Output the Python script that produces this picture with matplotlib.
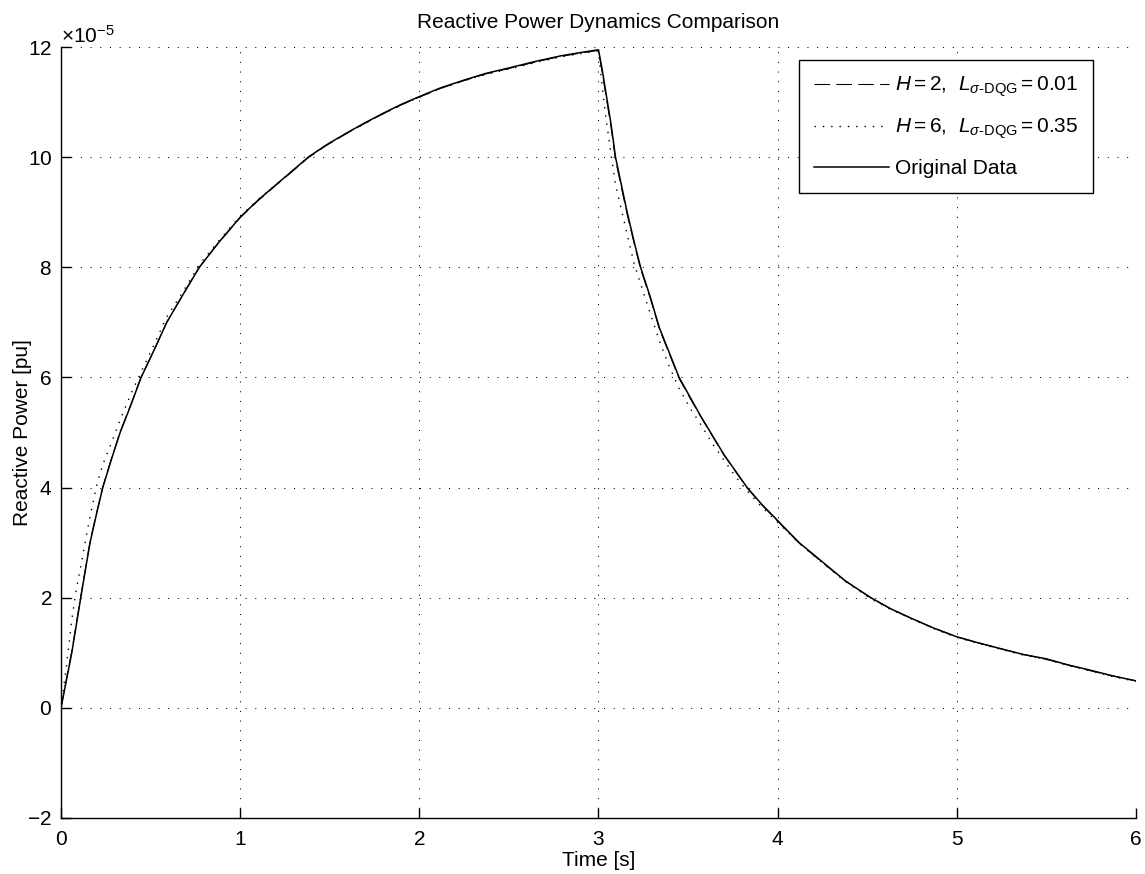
import matplotlib
matplotlib.use("Agg")
import matplotlib.pyplot as plt

plt.rcParams['font.family'] = ['Liberation Sans', 'DejaVu Sans']
plt.rcParams['mathtext.fontset'] = 'custom'
plt.rcParams['mathtext.rm'] = 'Liberation Sans'
plt.rcParams['mathtext.it'] = 'Liberation Sans:italic'
plt.rcParams['mathtext.sf'] = 'Liberation Sans'
plt.rcParams['axes.unicode_minus'] = False
FS = 15
plt.rcParams['font.size'] = FS

# time axis [s]
t = [0, 0.03, 0.06, 0.085, 0.11, 0.14, 0.162, 0.2, 0.233, 0.28, 0.33, 0.39, 0.447, 0.52, 0.59, 0.68, 0.772, 0.88, 1.0,
     1.1, 1.2, 1.28, 1.38, 1.48, 1.6, 1.7, 1.8, 1.9, 2.0, 2.12, 2.25, 2.37, 2.5, 2.65, 2.79, 2.9, 3.0,
     3.02, 3.04, 3.07, 3.095, 3.16, 3.2, 3.235, 3.29, 3.34, 3.395, 3.45, 3.51, 3.57, 3.635, 3.7, 3.765, 3.83, 3.91, 4.0,
     4.12, 4.25, 4.38, 4.52, 4.63, 4.75, 4.87, 5.0, 5.12, 5.25, 5.37, 5.5, 5.62, 5.75, 5.87, 6.0]

# reactive power, in units of 1e-5 pu
q_h2 = [0, 0.52, 1.03, 1.52, 2.02, 2.6, 3.02, 3.56, 4.01, 4.51, 5.01, 5.51, 6.01, 6.5, 7.0, 7.5, 8.0, 8.45, 8.9,
        9.21, 9.49, 9.71, 9.99, 10.21, 10.44, 10.62, 10.79, 10.95, 11.09, 11.25, 11.39, 11.51, 11.61, 11.73, 11.83, 11.89, 11.94,
        11.55, 11.15, 10.55, 9.95, 8.96, 8.42, 7.97, 7.43, 6.88, 6.43, 5.98, 5.63, 5.29, 4.94, 4.59, 4.29, 3.99, 3.69, 3.39,
        2.99, 2.64, 2.3, 2.0, 1.8, 1.62, 1.45, 1.29, 1.18, 1.07, 0.97, 0.88, 0.78, 0.67, 0.58, 0.49]
q_h6 = [0, 0.75, 1.6, 2.15, 2.57, 3.1, 3.48, 4.05, 4.42, 4.8, 5.23, 5.7, 6.1, 6.6, 7.1, 7.55, 8.05, 8.48, 8.93,
        9.23, 9.5, 9.72, 10.0, 10.22, 10.45, 10.62, 10.79, 10.95, 11.09, 11.25, 11.39, 11.5, 11.6, 11.72, 11.82, 11.88, 11.93,
        11.3, 10.75, 10.05, 9.5, 8.6, 8.05, 7.7, 7.15, 6.66, 6.2, 5.8, 5.45, 5.15, 4.8, 4.5, 4.2, 3.94, 3.65, 3.37,
        2.99, 2.63, 2.29, 1.98, 1.79, 1.61, 1.44, 1.28, 1.17, 1.06, 0.96, 0.88, 0.77, 0.67, 0.57, 0.48]
q_orig = [0, 0.5, 1.0, 1.5, 2.0, 2.58, 3.0, 3.55, 4.0, 4.5, 5.0, 5.5, 6.0, 6.5, 7.0, 7.5, 8.0, 8.45, 8.91,
          9.22, 9.5, 9.72, 10.0, 10.22, 10.45, 10.63, 10.8, 10.96, 11.1, 11.26, 11.4, 11.52, 11.62, 11.74, 11.84, 11.9, 11.95,
          11.6, 11.2, 10.6, 10.0, 9.0, 8.45, 8.0, 7.45, 6.9, 6.45, 6.0, 5.65, 5.3, 4.95, 4.6, 4.3, 4.0, 3.7, 3.4,
          3.0, 2.65, 2.3, 2.0, 1.8, 1.62, 1.45, 1.29, 1.18, 1.07, 0.97, 0.89, 0.78, 0.68, 0.58, 0.49]
scale = 1e-5

labels = [r'$H = 2$,  $L_{\sigma\text{-DQG}} = 0.01$',
          r'$H = 6$,  $L_{\sigma\text{-DQG}} = 0.35$',
          'Original Data']

fig = plt.figure(figsize=(11.45, 8.74), dpi=100)
ax = fig.add_axes([0.0533, 0.0641, 0.9388, 0.8821])

ax.plot(t, [v * scale for v in q_h2], color='black', lw=0.75, dashes=(15, 6), label=labels[0])
ax.plot(t, [v * scale for v in q_h6], color='black', lw=1.0, linestyle=(0, (1, 5)), label=labels[1])
ax.plot(t, [v * scale for v in q_orig], color='black', lw=1.1, label=labels[2])

ax.set_xlim(0, 6)
ax.set_ylim(-2e-5, 12e-5)
ax.set_xticks(range(0, 7))
ax.set_yticks([v * scale for v in range(-2, 13, 2)])
ax.ticklabel_format(axis='y', style='sci', scilimits=(-5, -5), useMathText=True)

ax.grid(True, color='black', lw=0.75, linestyle=(0, (1, 8.3)))
for s in ['top', 'right']:
    ax.spines[s].set_visible(False)
ax.spines['left'].set_linewidth(1.0)
ax.spines['bottom'].set_linewidth(1.0)
ax.tick_params(direction='in', length=7.5, width=1.0, labelsize=FS)
ax.tick_params(axis='x', pad=9)
ax.tick_params(axis='y', pad=6.5)

ax.set_title('Reactive Power Dynamics Comparison', fontsize=FS, pad=13.5)
ax.set_xlabel('Time [s]', fontsize=FS)
ax.set_ylabel('Reactive Power [pu]', fontsize=FS)
ax.xaxis.set_label_coords(0.5, -0.043)
ax.yaxis.set_label_coords(-0.027, 0.5)

leg = ax.legend(loc='upper right', bbox_to_anchor=(0.96, 0.983), borderaxespad=0,
                fancybox=False, edgecolor='black', framealpha=1, handlelength=3.6,
                handletextpad=0.3, labelspacing=0.85, borderpad=0.7, fontsize=FS)
leg.get_frame().set_linewidth(1.0)

fig.savefig('out.png', dpi=100)
